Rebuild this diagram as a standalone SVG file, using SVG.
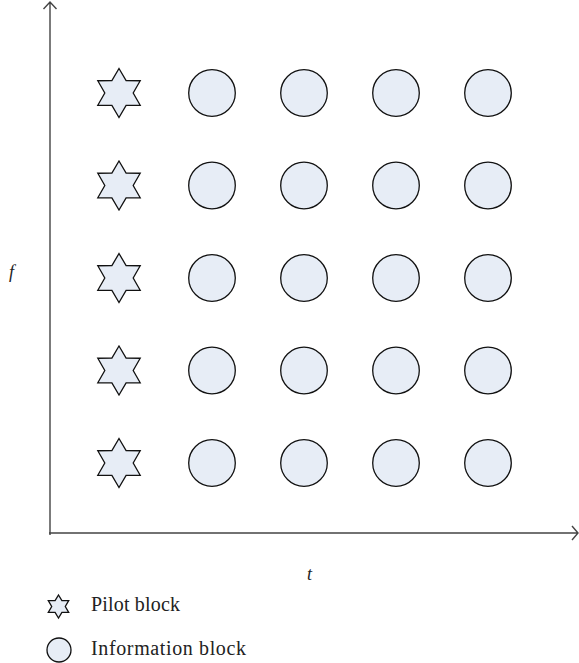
<svg xmlns="http://www.w3.org/2000/svg" xmlns:xlink="http://www.w3.org/1999/xlink" width="579" height="663" viewBox="0 0 579 663">
<style>
.blk{fill:#e7edf6;stroke:#111;stroke-width:1.3;stroke-linejoin:miter}
.axis{stroke:#444;stroke-width:1.4;fill:none}
.lbl{font-family:"Liberation Serif","Times New Roman",serif;font-style:italic;font-size:18px;fill:#222}
.leg{font-family:"Liberation Serif","Times New Roman",serif;font-size:20px;fill:#222}
</style>
<defs>
<path id="star" d="M0,-24.5 L7.1,-12.3 L21.2,-12.25 L14.2,0 L21.2,12.25 L7.1,12.3 L0,24.5 L-7.1,12.3 L-21.2,12.25 L-14.2,0 L-21.2,-12.25 L-7.1,-12.3 Z"/>
</defs>
<g id="connectors">
<path class="axis" d="M50,535 L50,2 M43.5,9 L50,2 L56.5,9"/>
<path class="axis" d="M49,533 L578,533 M572,526 L578,533 L572,540"/>
</g>
<g id="row1">
<use xlink:href="#star" class="blk" x="119" y="93"/>
<circle class="blk" cx="212" cy="93" r="23.3"/>
<circle class="blk" cx="304" cy="93" r="23.3"/>
<circle class="blk" cx="396" cy="93" r="23.3"/>
<circle class="blk" cx="488" cy="93" r="23.3"/>
</g>
<g id="row2">
<use xlink:href="#star" class="blk" x="119" y="185.5"/>
<circle class="blk" cx="212" cy="185.5" r="23.3"/>
<circle class="blk" cx="304" cy="185.5" r="23.3"/>
<circle class="blk" cx="396" cy="185.5" r="23.3"/>
<circle class="blk" cx="488" cy="185.5" r="23.3"/>
</g>
<g id="row3">
<use xlink:href="#star" class="blk" x="119" y="278"/>
<circle class="blk" cx="212" cy="278" r="23.3"/>
<circle class="blk" cx="304" cy="278" r="23.3"/>
<circle class="blk" cx="396" cy="278" r="23.3"/>
<circle class="blk" cx="488" cy="278" r="23.3"/>
</g>
<g id="row4">
<use xlink:href="#star" class="blk" x="119" y="370.5"/>
<circle class="blk" cx="212" cy="370.5" r="23.3"/>
<circle class="blk" cx="304" cy="370.5" r="23.3"/>
<circle class="blk" cx="396" cy="370.5" r="23.3"/>
<circle class="blk" cx="488" cy="370.5" r="23.3"/>
</g>
<g id="row5">
<use xlink:href="#star" class="blk" x="119" y="463"/>
<circle class="blk" cx="212" cy="463" r="23.3"/>
<circle class="blk" cx="304" cy="463" r="23.3"/>
<circle class="blk" cx="396" cy="463" r="23.3"/>
<circle class="blk" cx="488" cy="463" r="23.3"/>
</g>
<g id="axis-labels">
<text class="lbl" x="9" y="278">f</text>
<text class="lbl" x="307" y="580">t</text>
</g>
<g id="legend">
<path class="blk" d="M58.5,595 L61.9,600.6 L68.7,600.6 L65.3,606.5 L68.7,612.4 L61.9,612.4 L58.5,618 L55.1,612.4 L48.3,612.4 L51.7,606.5 L48.3,600.6 L55.1,600.6 Z"/>
<text class="leg" x="91" y="611" textLength="89">Pilot block</text>
<circle class="blk" cx="59" cy="650" r="12"/>
<text class="leg" x="91" y="655" textLength="155">Information block</text>
</g>
</svg>
